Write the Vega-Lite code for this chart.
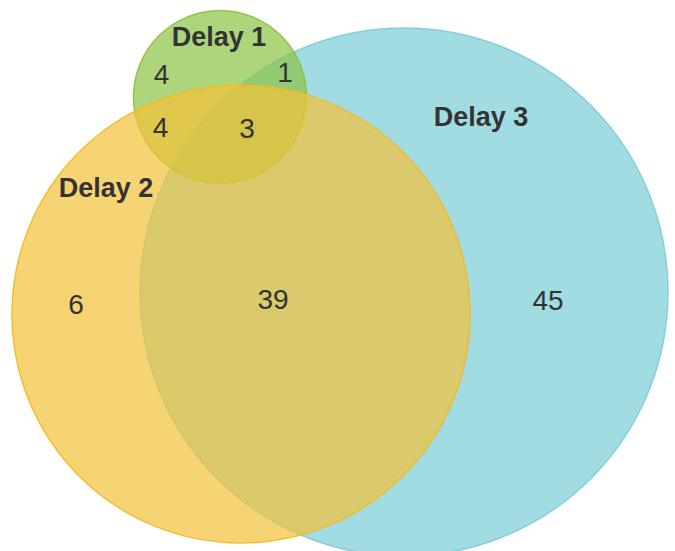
{
  "$schema": "https://vega.github.io/schema/vega-lite/v6.json",
  "width": 675,
  "height": 551,
  "padding": 0,
  "autosize": {"type": "none"},
  "background": "white",
  "config": {"view": {"stroke": null}},
  "datasets": {
    "sets": [
      {"set": "Delay 3", "cx": 404, "cy": 292, "d": 528},
      {"set": "Delay 1", "cx": 220, "cy": 97, "d": 173},
      {"set": "Delay 2", "cx": 241, "cy": 314, "d": 458}
    ],
    "names": [
      {"label": "Delay 1", "lx": 219, "ly": 46},
      {"label": "Delay 2", "lx": 106, "ly": 197},
      {"label": "Delay 3", "lx": 481, "ly": 126}
    ],
    "counts": [
      {"region": "Delay 1 only", "count": 4, "lx": 161.5, "ly": 84},
      {"region": "Delay 1 & Delay 3", "count": 1, "lx": 285, "ly": 82},
      {"region": "Delay 1 & Delay 2", "count": 4, "lx": 160.5, "ly": 137},
      {"region": "All three", "count": 3, "lx": 247, "ly": 138},
      {"region": "Delay 2 only", "count": 6, "lx": 76, "ly": 314},
      {"region": "Delay 2 & Delay 3", "count": 39, "lx": 273, "ly": 309},
      {"region": "Delay 3 only", "count": 45, "lx": 548, "ly": 310}
    ]
  },
  "layer": [
    {
      "data": {"name": "sets"},
      "mark": {"type": "point", "shape": "circle", "filled": true, "fillOpacity": 0.7, "strokeOpacity": 0.9, "strokeWidth": 1.5},
      "encoding": {
        "x": {"field": "cx", "type": "quantitative", "scale": {"domain": [0, 675], "nice": false, "zero": false}, "axis": null},
        "y": {"field": "cy", "type": "quantitative", "scale": {"domain": [0, 551], "nice": false, "zero": false, "reverse": true}, "axis": null},
        "size": {"field": "d", "type": "quantitative", "scale": {"type": "pow", "exponent": 2, "domain": [0, 675], "range": [0, 455625]}, "legend": null},
        "fill": {"field": "set", "type": "nominal", "scale": {"domain": ["Delay 1", "Delay 2", "Delay 3"], "range": ["#8dc345", "#f4c238", "#79cdd7"]}, "legend": null},
        "stroke": {"field": "set", "type": "nominal", "scale": {"domain": ["Delay 1", "Delay 2", "Delay 3"], "range": ["#8cc040", "#f2b820", "#80ccd6"]}, "legend": null}
      }
    },
    {
      "data": {"name": "names"},
      "mark": {"type": "text", "font": "Liberation Sans", "fontSize": 27, "fontWeight": "bold", "color": "#333333", "align": "center", "baseline": "alphabetic"},
      "encoding": {
        "x": {"field": "lx", "type": "quantitative"},
        "y": {"field": "ly", "type": "quantitative"},
        "text": {"field": "label"}
      }
    },
    {
      "data": {"name": "counts"},
      "mark": {"type": "text", "font": "Liberation Sans", "fontSize": 28, "color": "#333333", "align": "center", "baseline": "alphabetic"},
      "encoding": {
        "x": {"field": "lx", "type": "quantitative"},
        "y": {"field": "ly", "type": "quantitative"},
        "text": {"field": "count"}
      }
    }
  ]
}
